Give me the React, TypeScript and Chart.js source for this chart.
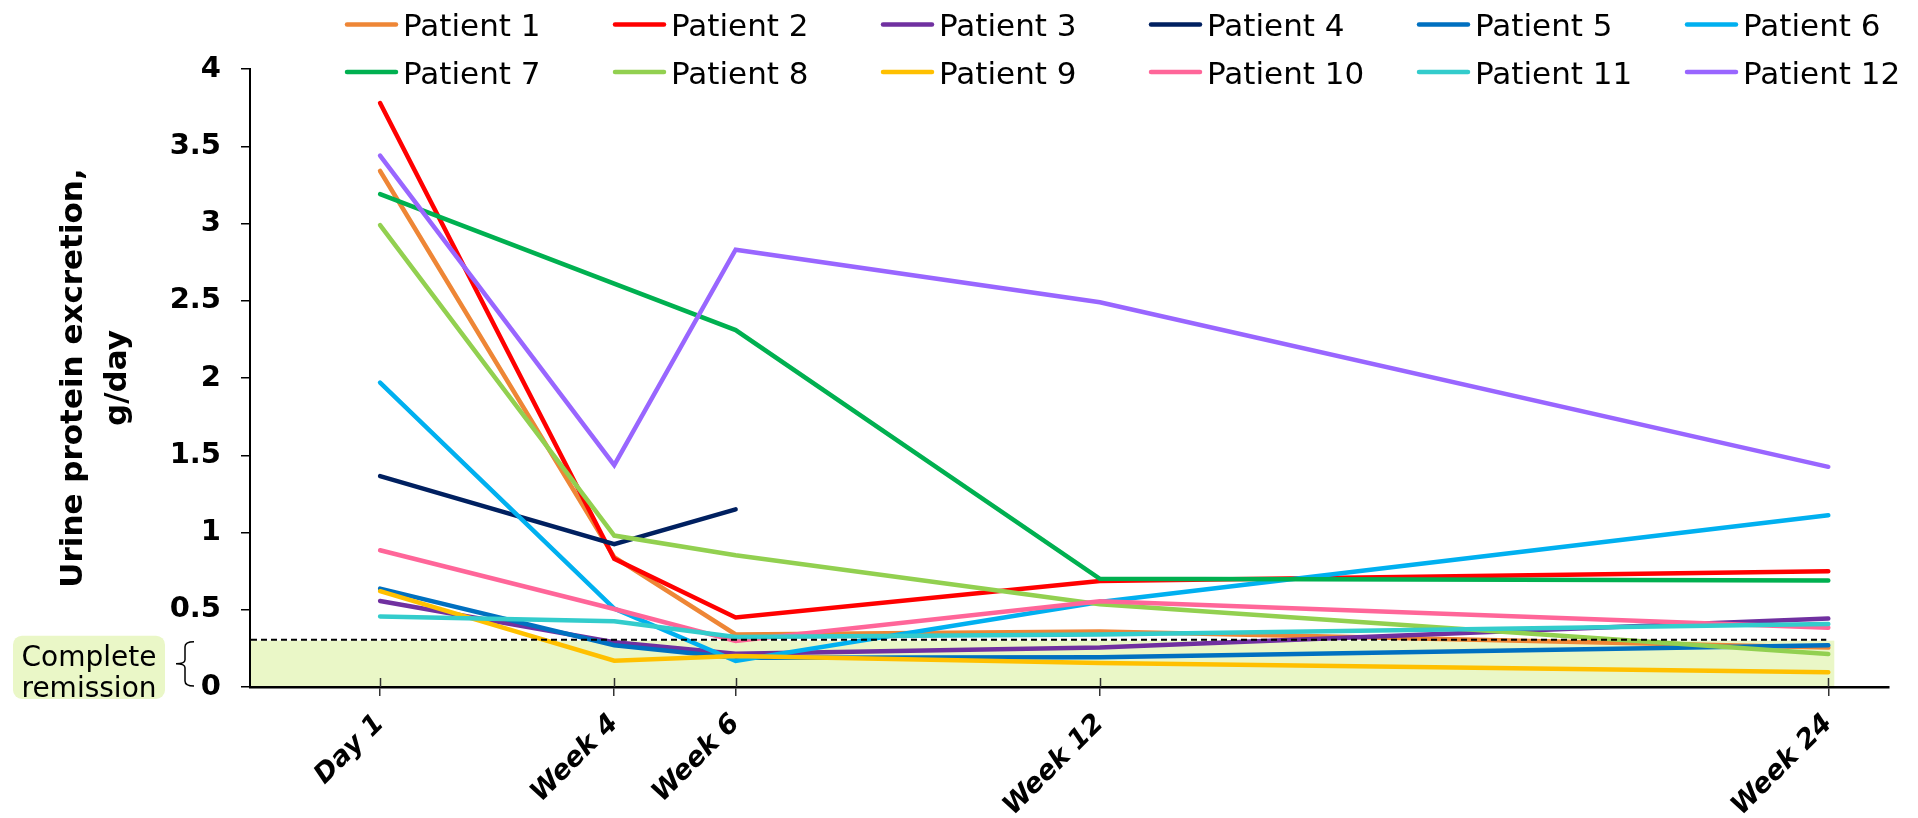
import React, { useEffect, useRef } from 'react';
import { Chart, registerables } from 'chart.js';

Chart.register(...registerables);

// ---------- data ----------
const TIMEPOINT_DAYS = [1, 28, 42, 84, 168];
const TIMEPOINT_LABELS = ['Day 1', 'Week 4', 'Week 6', 'Week 12', 'Week 24'];
const Y_TICK_STEP = 0.5;
const REMISSION_LEVEL = 0.3;

const PATIENT_NAMES = [
  'Patient 1', 'Patient 2', 'Patient 3', 'Patient 4', 'Patient 5', 'Patient 6',
  'Patient 7', 'Patient 8', 'Patient 9', 'Patient 10', 'Patient 11', 'Patient 12',
];
const PATIENT_COLORS = [
  '#EE8636', '#FF0000', '#7030A0', '#002060', '#0070C0', '#00B0F0',
  '#00B050', '#92D050', '#FFC000', '#FF6699', '#33CCCC', '#9966FF',
];

const patient1 = [3.34, 0.84, 0.34, 0.36, 0.255];
const patient2 = [3.78, 0.83, 0.45, 0.686, 0.749];
const patient3 = [0.557, 0.29, 0.216, 0.255, 0.443];
const patient4 = [1.365, 0.925, 1.15];
const patient5 = [0.637, 0.27, 0.19, 0.192, 0.27];
const patient6 = [1.97, 0.507, 0.168, 0.55, 1.112];
const patient7 = [3.19, null, 2.31, 0.7, 0.689];
const patient8 = [2.99, 0.98, 0.853, 0.535, 0.213];
const patient9 = [0.62, 0.17, 0.2, 0.155, 0.095];
const patient10 = [0.885, 0.505, 0.298, 0.555, 0.384];
const patient11 = [0.457, 0.425, 0.323, 0.34, 0.408];
const patient12 = [3.44, 1.436, 2.83, 2.49, 1.425];

const PATIENT_VALUES: (number | null)[][] = [
  patient1, patient2, patient3, patient4, patient5, patient6,
  patient7, patient8, patient9, patient10, patient11, patient12,
];

const FONT = '"DejaVu Sans", Verdana, sans-serif';

// ---------- drawing helpers ----------
const remissionPlugin = {
  id: 'remissionArea',
  beforeDraw(chart: any) {
    const { ctx, chartArea, scales } = chart;
    const x = scales.x, y = scales.y;
    const top = y.getPixelForValue(REMISSION_LEVEL);
    const right = x.getPixelForValue(TIMEPOINT_DAYS[TIMEPOINT_DAYS.length - 1]) + 6;
    ctx.save();
    ctx.fillStyle = '#EAF7C7';
    ctx.fillRect(chartArea.left, top, right - chartArea.left, chartArea.bottom - top);
    ctx.restore();
  },
  afterDatasetsDraw(chart: any) {
    const { ctx, chartArea, scales } = chart;
    const x = scales.x, y = scales.y;
    const yy = y.getPixelForValue(REMISSION_LEVEL) - 1;
    const right = x.getPixelForValue(TIMEPOINT_DAYS[TIMEPOINT_DAYS.length - 1]) - 2;
    ctx.save();
    ctx.strokeStyle = '#000';
    ctx.lineWidth = 2;
    ctx.setLineDash([6, 4]);
    ctx.beginPath();
    ctx.moveTo(chartArea.left + 1, yy);
    ctx.lineTo(right, yy);
    ctx.stroke();
    ctx.restore();
  },
  afterDraw(chart: any) {
    const { ctx, chartArea, scales } = chart;
    const x = scales.x, y = scales.y;
    ctx.save();
    // upper halves of the x tick marks (they cross the axis)
    ctx.strokeStyle = '#333';
    ctx.lineWidth = 1.5;
    x.ticks.forEach((t: any) => {
      const px = Math.round(x.getPixelForValue(t.value)) + 0.5;
      ctx.beginPath();
      ctx.moveTo(px, chartArea.bottom - 9);
      ctx.lineTo(px, chartArea.bottom);
      ctx.stroke();
    });

    // "Complete remission" label box
    const yTop = y.getPixelForValue(REMISSION_LEVEL);
    const yBot = y.getPixelForValue(0);
    const boxL = 13, boxR = 165, boxT = yTop - 5, boxB = yBot + 12;
    const r = 9;
    ctx.fillStyle = '#EAF7C7';
    ctx.beginPath();
    ctx.moveTo(boxL + r, boxT);
    ctx.arcTo(boxR, boxT, boxR, boxB, r);
    ctx.arcTo(boxR, boxB, boxL, boxB, r);
    ctx.arcTo(boxL, boxB, boxL, boxT, r);
    ctx.arcTo(boxL, boxT, boxR, boxT, r);
    ctx.closePath();
    ctx.fill();
    ctx.fillStyle = '#000';
    ctx.font = `28px ${FONT}`;
    ctx.textAlign = 'center';
    ctx.textBaseline = 'alphabetic';
    const cx = (boxL + boxR) / 2;
    ctx.fillText('Complete', cx, yTop + 25);
    ctx.fillText('remission', cx, yTop + 56);

    // brace
    const xr = 194, xm = 185, xl = 176;
    const ym = (yTop + yBot) / 2;
    ctx.strokeStyle = '#000';
    ctx.lineWidth = 1.5;
    ctx.beginPath();
    ctx.moveTo(xr, yTop + 1);
    ctx.quadraticCurveTo(xm, yTop + 1, xm, yTop + 6);
    ctx.lineTo(xm, ym - 4);
    ctx.quadraticCurveTo(xm, ym, xl, ym);
    ctx.quadraticCurveTo(xm, ym, xm, ym + 4);
    ctx.lineTo(xm, yBot - 6);
    ctx.quadraticCurveTo(xm, yBot - 1, xr, yBot - 1);
    ctx.stroke();

    // legend grid (2 rows x 6 columns)
    const x0 = 345, colStep = 268, rows = [24.5, 72], lineLen = 53, gap = 5;
    ctx.font = `31px ${FONT}`;
    ctx.textAlign = 'left';
    ctx.textBaseline = 'alphabetic';
    chart.data.datasets.forEach((ds: any, i: number) => {
      const col = i % 6, row = Math.floor(i / 6);
      const lx = x0 + col * colStep;
      const ly = rows[row];
      ctx.strokeStyle = ds.borderColor;
      ctx.lineWidth = 4.5;
      ctx.lineCap = 'round';
      ctx.beginPath();
      ctx.moveTo(lx + 2, ly);
      ctx.lineTo(lx + lineLen - 2, ly);
      ctx.stroke();
      ctx.fillStyle = '#000';
      ctx.fillText(ds.label, lx + lineLen + gap, ly + 11.5);
    });
    ctx.restore();
  },
};

export default function App() {
  const canvasRef = useRef<HTMLCanvasElement>(null);

  useEffect(() => {
    document.body.style.margin = '0';
    const canvas = canvasRef.current;
    if (!canvas) return;
    const chart = new Chart(canvas, {
      type: 'line',
      data: {
        datasets: PATIENT_NAMES.map((name, i) => ({
          label: name,
          data: TIMEPOINT_DAYS.map((d, j) => ({ x: d, y: PATIENT_VALUES[i][j] ?? null })),
          borderColor: PATIENT_COLORS[i],
          backgroundColor: PATIENT_COLORS[i],
          borderWidth: 4.5,
          borderCapStyle: 'round',
          pointRadius: 0,
          pointHoverRadius: 0,
          tension: 0,
          spanGaps: true,
          fill: false,
          order: PATIENT_NAMES.length - i,
        })),
      } as any,
      options: {
        responsive: false,
        animation: false,
        devicePixelRatio: 1,
        events: [],
        layout: { padding: { top: 69, right: 29, bottom: 0, left: 0 } },
        plugins: {
          legend: { display: false },
          tooltip: { enabled: false },
          title: { display: false },
        },
        scales: {
          x: {
            type: 'linear',
            min: -14,
            max: 175,
            afterBuildTicks: (s: any) => {
              s.ticks = TIMEPOINT_DAYS.map((v) => ({ value: v }));
            },
            afterFit: (s: any) => {
              s.height = 131;
            },
            ticks: {
              autoSkip: false,
              maxRotation: 45,
              minRotation: 45,
              padding: 12,
              color: '#000',
              font: { family: FONT, size: 27, weight: 'bold', style: 'italic' },
              callback: (v: any) => {
                const k = TIMEPOINT_DAYS.indexOf(Number(v));
                return k >= 0 ? TIMEPOINT_LABELS[k] : '';
              },
            },
            grid: {
              display: true,
              drawOnChartArea: false,
              drawTicks: true,
              tickLength: 9,
              color: '#333',
              lineWidth: 1.5,
            },
            border: { display: true, color: '#000', width: 2.5 },
          },
          y: {
            min: 0,
            max: 4,
            afterFit: (s: any) => {
              s.width = 250;
            },
            ticks: {
              stepSize: Y_TICK_STEP,
              padding: 20,
              color: '#000',
              font: { family: FONT, size: 29, weight: 'bold' },
              callback: (v: any) => String(Number(v)),
            },
            grid: {
              display: true,
              drawOnChartArea: false,
              drawTicks: true,
              tickLength: 9,
              color: '#000',
              lineWidth: 1.5,
            },
            border: { display: true, color: '#000', width: 2 },
            title: {
              display: true,
              text: ['Urine protein excretion,', 'g/day'],
              color: '#000',
              font: { family: FONT, size: 31, weight: 'bold', lineHeight: 1.42 },
              padding: { top: 52, bottom: 0 },
            },
          },
        },
      } as any,
      plugins: [remissionPlugin],
    });
    return () => chart.destroy();
  }, []);

  return (
    <div style={{ width: 1918, height: 818 }}>
      <canvas ref={canvasRef} width={1918} height={818} style={{ display: 'block' }} />
    </div>
  );
}
